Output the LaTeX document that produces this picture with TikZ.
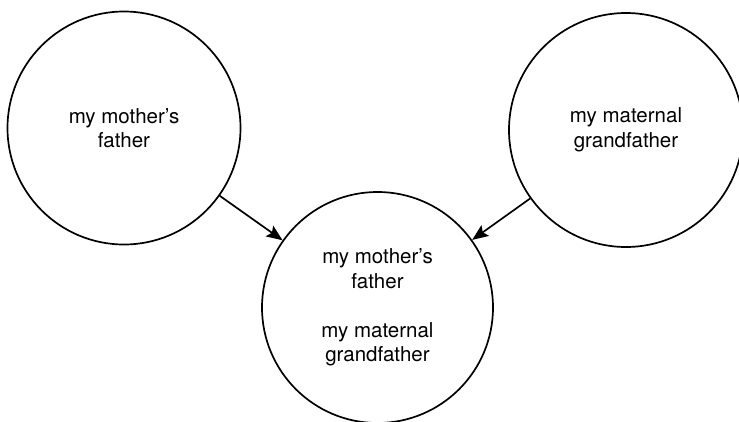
\documentclass[tikz,border=0pt]{standalone}
\usepackage{fontspec}
\setmainfont{TeX Gyre Heros}
\usetikzlibrary{arrows.meta}
\begin{document}
\begin{tikzpicture}[x=1pt,y=-1pt,
  bubble/.style={draw, circle, line width=1.7pt, inner sep=0pt, align=center,
    font=\fontsize{20.5}{24.5}\selectfont},
  link/.style={line width=1.7pt, -{Stealth[length=16pt,width=13pt,inset=3pt]}}]
\useasboundingbox (0,0) rectangle (739,421);
\node[bubble, minimum size=233pt] (L) at (124,128) {my mother's\\father};
\node[bubble, minimum size=234pt] (R) at (626,130) {my maternal\\grandfather};
\node[bubble, minimum size=231pt] (B) at (377.5,307.5) {my mother's\\father\\[24.5pt]my maternal\\grandfather};
\draw[link] (L) -- (B);
\draw[link] (R) -- (B);
\end{tikzpicture}
\end{document}
